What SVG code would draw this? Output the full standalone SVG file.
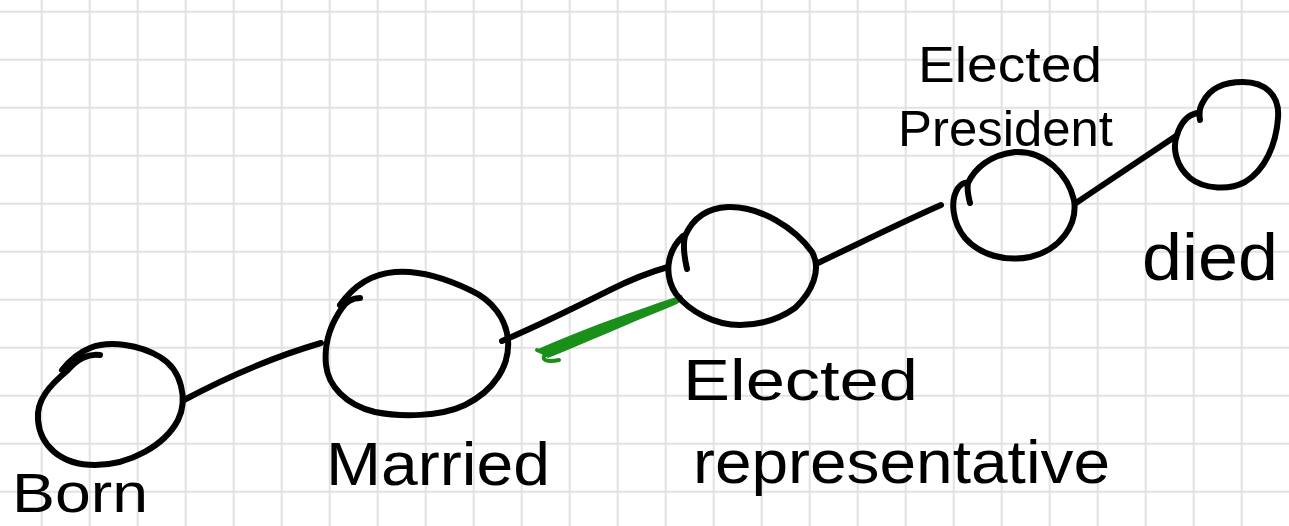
<svg xmlns="http://www.w3.org/2000/svg" width="1289" height="526" viewBox="0 0 1289 526">
  <style>
    .grid { stroke: #e2e2e2; stroke-width: 2; fill: none; }
    .ink { fill: none; stroke: #000; stroke-width: 6; stroke-linecap: round; stroke-linejoin: round; }
    .label { font-family: "Liberation Sans", "DejaVu Sans", sans-serif; fill: #000; }
    .hl { fill: #1a8f1a; }
    .hlstroke { fill: none; stroke: #1a8f1a; stroke-width: 4; stroke-linecap: round; stroke-linejoin: round; }
  </style>
  <rect x="0" y="0" width="1289" height="526" fill="#ffffff"/>
  <g id="grid">
    <path class="grid" d="M41.7 0V526M89.7 0V526M137.7 0V526M185.7 0V526M233.7 0V526M281.7 0V526M329.7 0V526M377.7 0V526M425.7 0V526M473.7 0V526M521.7 0V526M569.7 0V526M617.7 0V526M665.7 0V526M713.7 0V526M761.7 0V526M809.7 0V526M857.7 0V526M905.7 0V526M953.7 0V526M1001.7 0V526M1049.7 0V526M1097.7 0V526M1145.7 0V526M1193.7 0V526M1241.7 0V526M0 11.7H1289M0 59.7H1289M0 107.7H1289M0 155.7H1289M0 203.7H1289M0 251.7H1289M0 299.7H1289M0 347.7H1289M0 395.7H1289M0 443.7H1289M0 491.7H1289"/>
  </g>
  <g id="connectors">
    <path class="ink" d="M184 400 C225 378, 270 358, 321 343"/>
    <path class="ink" d="M502 341 C540 325, 580 305, 610 290 C630 280, 650 272, 668 267"/>
    <path class="ink" d="M818 263 C860 243, 900 223, 941 205"/>
    <path class="ink" d="M1076 203 C1110 180, 1145 157, 1176 136"/>
    <g id="highlight">
      <path class="hl" d="M536 350 C580 330, 640 309, 682 295 C684 300, 679 304, 670 307 C630 323, 585 343, 548 358 Z"/>
      <path class="hlstroke" d="M537 350 L546 354 C540 359, 546 363, 559 360"/>
    </g>
  </g>
  <g id="node-born">
    <path class="ink" d="M100 355 C88 353, 76 360, 68 370 C50 385, 36 400, 38 420 C40 445, 60 465, 95 465 C130 465, 165 445, 178 420 C188 400, 182 370, 160 357 C140 345, 110 340, 90 348 C80 352, 70 360, 62 370"/>
    <text class="label" x="12" y="512" font-size="56" textLength="136" lengthAdjust="spacingAndGlyphs">Born</text>
  </g>
  <g id="node-married">
    <path class="ink" d="M360 298 C352 298, 346 302, 342 308 C330 325, 324 345, 326 365 C328 385, 345 405, 375 412 C400 417, 440 417, 465 405 C495 390, 510 365, 508 340 C506 318, 492 300, 470 290 C445 278, 420 270, 395 272 C370 274, 352 288, 340 305"/>
    <text class="label" x="326" y="485" font-size="62" textLength="224" lengthAdjust="spacingAndGlyphs">Married</text>
  </g>
  <g id="node-elected-representative">
    <path class="ink" d="M687 269 C684 256, 683 244, 685 236 C692 220, 705 208, 728 207 C760 206, 795 228, 812 252 C822 270, 812 292, 795 308 C778 320, 760 325, 740 325 C715 325, 690 312, 676 294 C664 276, 666 252, 683 236"/>
    <text class="label" x="683" y="400" font-size="58" textLength="235" lengthAdjust="spacingAndGlyphs">Elected</text>
    <text class="label" x="693" y="483" font-size="62" textLength="417" lengthAdjust="spacingAndGlyphs">representative</text>
  </g>
  <g id="node-elected-president">
    <path class="ink" d="M970 203 C968 195, 967 188, 968 183 C975 168, 990 155, 1015 152 C1045 150, 1068 175, 1074 200 C1078 225, 1060 250, 1030 257 C1005 262, 980 255, 965 238 C952 222, 950 200, 958 188 C961 184, 965 182, 968 183"/>
    <text class="label" x="918" y="82" font-size="50" textLength="184" lengthAdjust="spacingAndGlyphs">Elected</text>
    <text class="label" x="898" y="146" font-size="50" textLength="215" lengthAdjust="spacingAndGlyphs">President</text>
  </g>
  <g id="node-died">
    <path class="ink" d="M1200 120 C1199 114, 1199 108, 1203 102 C1210 88, 1225 82, 1243 82 C1265 82, 1280 95, 1278 118 C1276 145, 1265 170, 1245 182 C1230 190, 1205 190, 1190 178 C1176 166, 1172 148, 1177 135 C1181 122, 1188 115, 1197 113"/>
    <text class="label" x="1142" y="280" font-size="66" textLength="136" lengthAdjust="spacingAndGlyphs">died</text>
  </g>
</svg>
